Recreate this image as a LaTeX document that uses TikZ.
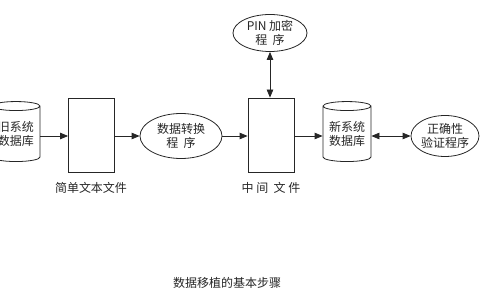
\documentclass[tikz,border=0pt]{standalone}
\usepackage{fontspec}
\setmainfont{Noto Sans CJK SC}
\usetikzlibrary{arrows.meta,shapes.geometric}
\begin{document}
\begin{tikzpicture}[x=1pt,y=1pt,
  line width=0.8pt, draw=black!85,
  txt/.style={font=\fontsize{12}{14}\selectfont, text=black!85, align=center, inner sep=0pt},
  db/.style={txt, draw, cylinder, shape border rotate=90, aspect=0.25, minimum width=48pt, minimum height=60pt},
  filebox/.style={draw, rectangle, minimum width=46pt, minimum height=74pt, inner sep=0pt},
  prog/.style={txt, draw, ellipse, inner sep=0pt},
  arr/.style={-{Triangle[length=8pt,width=6.5pt]}},
  darr/.style={{Triangle[length=8pt,width=6.5pt]}-{Triangle[length=8pt,width=6.5pt]}}
]
\useasboundingbox (0,0) rectangle (480,300);
\clip (0,0) rectangle (480,300);
% row y = 300-136 = 164
\node[db] (olddb) at (16,166) {旧系统\\数据库};
\node[filebox] (box1) at (91.5,165) {};
\node[prog, minimum width=82pt, minimum height=45pt] (conv) at (181,164) {数据转换\\程\ \ 序};
\node[filebox] (box2) at (271,165) {};
\node[db] (newdb) at (347,166) {新系统\\数据库};
\node[prog, minimum width=68pt, minimum height=41pt] (verify) at (445,164) {正确性\\验证程序};
\node[prog, minimum width=74pt, minimum height=37pt] (pin) at (270,267) {PIN 加密\\程\ \ 序};
\node[txt] (lab1) at (91,112) {简单文本文件};
\node[txt] (lab2) at (271,112) {中\ 间\ \ 文\ 件};
\node[txt] (title) at (227,17) {数据移植的基本步骤};
\draw[arr] (olddb.east|-conv) -- (box1.west|-conv);
\draw[arr] (box1.east|-conv) -- (conv.west);
\draw[arr] (conv.east) -- (box2.west|-conv);
\draw[arr] (box2.east|-conv) -- (newdb.west|-conv);
\draw[darr] (newdb.east|-verify) -- (verify.west);
\draw[darr] (pin.south) -- (box2.north-|pin.south);
\end{tikzpicture}
\end{document}
